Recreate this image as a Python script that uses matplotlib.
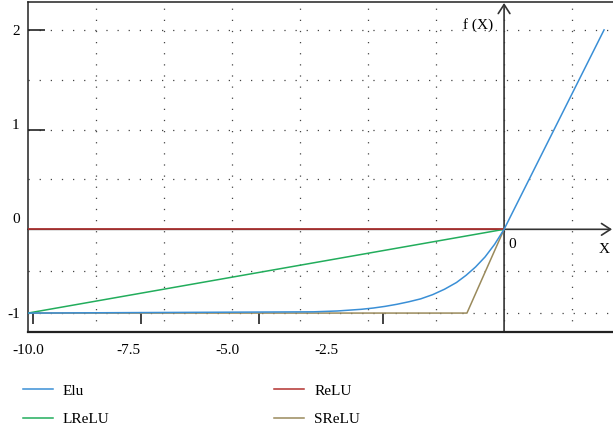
import numpy as np
import matplotlib
matplotlib.use('Agg')
import matplotlib.pyplot as plt
from matplotlib.lines import Line2D

plt.rcParams['font.family'] = ['Liberation Serif', 'DejaVu Serif']
plt.rcParams['font.size'] = 11

# curves
elu_x = [-10, -4, -3.5, -3, -2.75, -2.5, -2.25, -2, -1.75, -1.5, -1.25, -1,
         -0.8, -0.6, -0.4, -0.2, 0, 1.05, 2.1]
elu_y = [-1, -0.985, -0.975, -0.955, -0.94, -0.92, -0.895, -0.865, -0.83,
         -0.78, -0.715, -0.635, -0.55, -0.45, -0.33, -0.18, 0, 1.0, 2.0]
lrelu_x = [-10, 0]
lrelu_y = [-1, 0]
relu_x = [-10, 0]
relu_y = [0, 0]
srelu_x = [-10, -0.78, 0]
srelu_y = [-1, -1, 0]

names = ['Elu', 'LReLU', 'ReLU', 'SReLU']
colors = ['#3a8fd6', '#22ad5c', '#b3312f', '#9a8a5c']

# tick labels (positions as drawn in the figure)
xlabel_pos = [-10, -7.9, -5.82, -3.74]
xlabel_txt = ['-10.0', '-7.5', '-5.0', '-2.5']
xmark_pos = [-9.9, -7.63, -5.15, -2.54]
ylabel_pos = [-1, 0.11, 1.06, 2]
ylabel_txt = ['-1', '0', '1', '2']


def fwd(y):
    y = np.asarray(y, dtype=float)
    return np.where(y < 0, 0.84 * y, y)


def inv(y):
    y = np.asarray(y, dtype=float)
    return np.where(y < 0, y / 0.84, y)


fig = plt.figure(figsize=(6.13, 4.30), dpi=100)
ax = fig.add_axes([28 / 613, 98 / 430, 587 / 613, 330 / 430])
ax.set_yscale('function', functions=(fwd, inv))
ax.set_xlim(-10, 2.33)
ax.set_ylim(-1.226, 2.28)

# dotted grid
for gy in [-1, -0.5, 0.5, 1, 1.5, 2]:
    ax.axhline(gy, color='#444444', lw=0.9, ls=(0, (1, 7.9)), zorder=0)
for gx in np.arange(-6, 2) * 10 / 7:
    ax.axvline(gx, color='#444444', lw=0.9, ls=(0, (1, 7.9)), zorder=0)

# axes with arrows
arrow = dict(arrowstyle='->,head_length=0.65,head_width=0.42', color='#333333',
             lw=1.2, shrinkA=0, shrinkB=0, mutation_scale=10)
ax.annotate('', xy=(0.995, 0), xycoords=('axes fraction', 'data'),
            xytext=(0, 0), textcoords=('axes fraction', 'data'),
            arrowprops=arrow, zorder=1)
ax.annotate('', xy=(0, 0.997), xycoords=('data', 'axes fraction'),
            xytext=(0, 0), textcoords=('data', 'axes fraction'),
            arrowprops=arrow, zorder=1)

ax.plot(srelu_x, srelu_y, color=colors[3], lw=1.1, zorder=2)
ax.plot(lrelu_x, lrelu_y, color=colors[1], lw=1.1, zorder=3)
ax.plot(relu_x, relu_y, color=colors[2], lw=1.2, zorder=3)
ax.plot(elu_x, elu_y, color=colors[0], lw=1.1, zorder=4)

ax.annotate('f (X)', xy=(0, 2.05), xytext=(-8, 0), textcoords='offset points',
            ha='right', va='center')
ax.annotate('0', xy=(0, 0), xytext=(3, -6), textcoords='offset points',
            ha='left', va='top')
ax.annotate('X', xy=(2.1, 0), xytext=(0, -10), textcoords='offset points',
            ha='center', va='top')

# frame
for s in ['left', 'top']:
    ax.spines[s].set_color('#222222')
    ax.spines[s].set_linewidth(1.1)
ax.spines['right'].set_visible(False)
ax.spines['bottom'].set_position(('data', -1))
ax.spines['bottom'].set_visible(False)
ax.axhline(-1.226, color='#222222', lw=1.6, clip_on=False)

ax.xaxis.remove_overlapping_locs = False
ax.yaxis.remove_overlapping_locs = False
ax.set_xticks(xlabel_pos, xlabel_txt)
ax.set_xticks(xmark_pos, minor=True)
ax.tick_params(axis='x', which='major', length=0, pad=22)
ax.tick_params(axis='x', which='minor', direction='out', length=8, width=1.3,
               color='#333333')
ax.set_yticks(ylabel_pos, ylabel_txt)
ax.set_yticks([1, 2], minor=True)
ax.tick_params(axis='y', which='major', length=0, pad=6)
ax.tick_params(axis='y', which='minor', direction='in', length=12, width=1.2,
               color='#222222')

handles = [Line2D([], [], color=c, lw=1.1) for c in colors]
fig.legend(handles, names, ncol=2, loc='upper left',
           bbox_to_anchor=(23 / 613, 1 - 384 / 430), frameon=False,
           borderpad=0, borderaxespad=0, handlelength=1.95,
           handletextpad=0.65, columnspacing=10.8, labelspacing=0.95)

fig.savefig('out.png', dpi=100)
